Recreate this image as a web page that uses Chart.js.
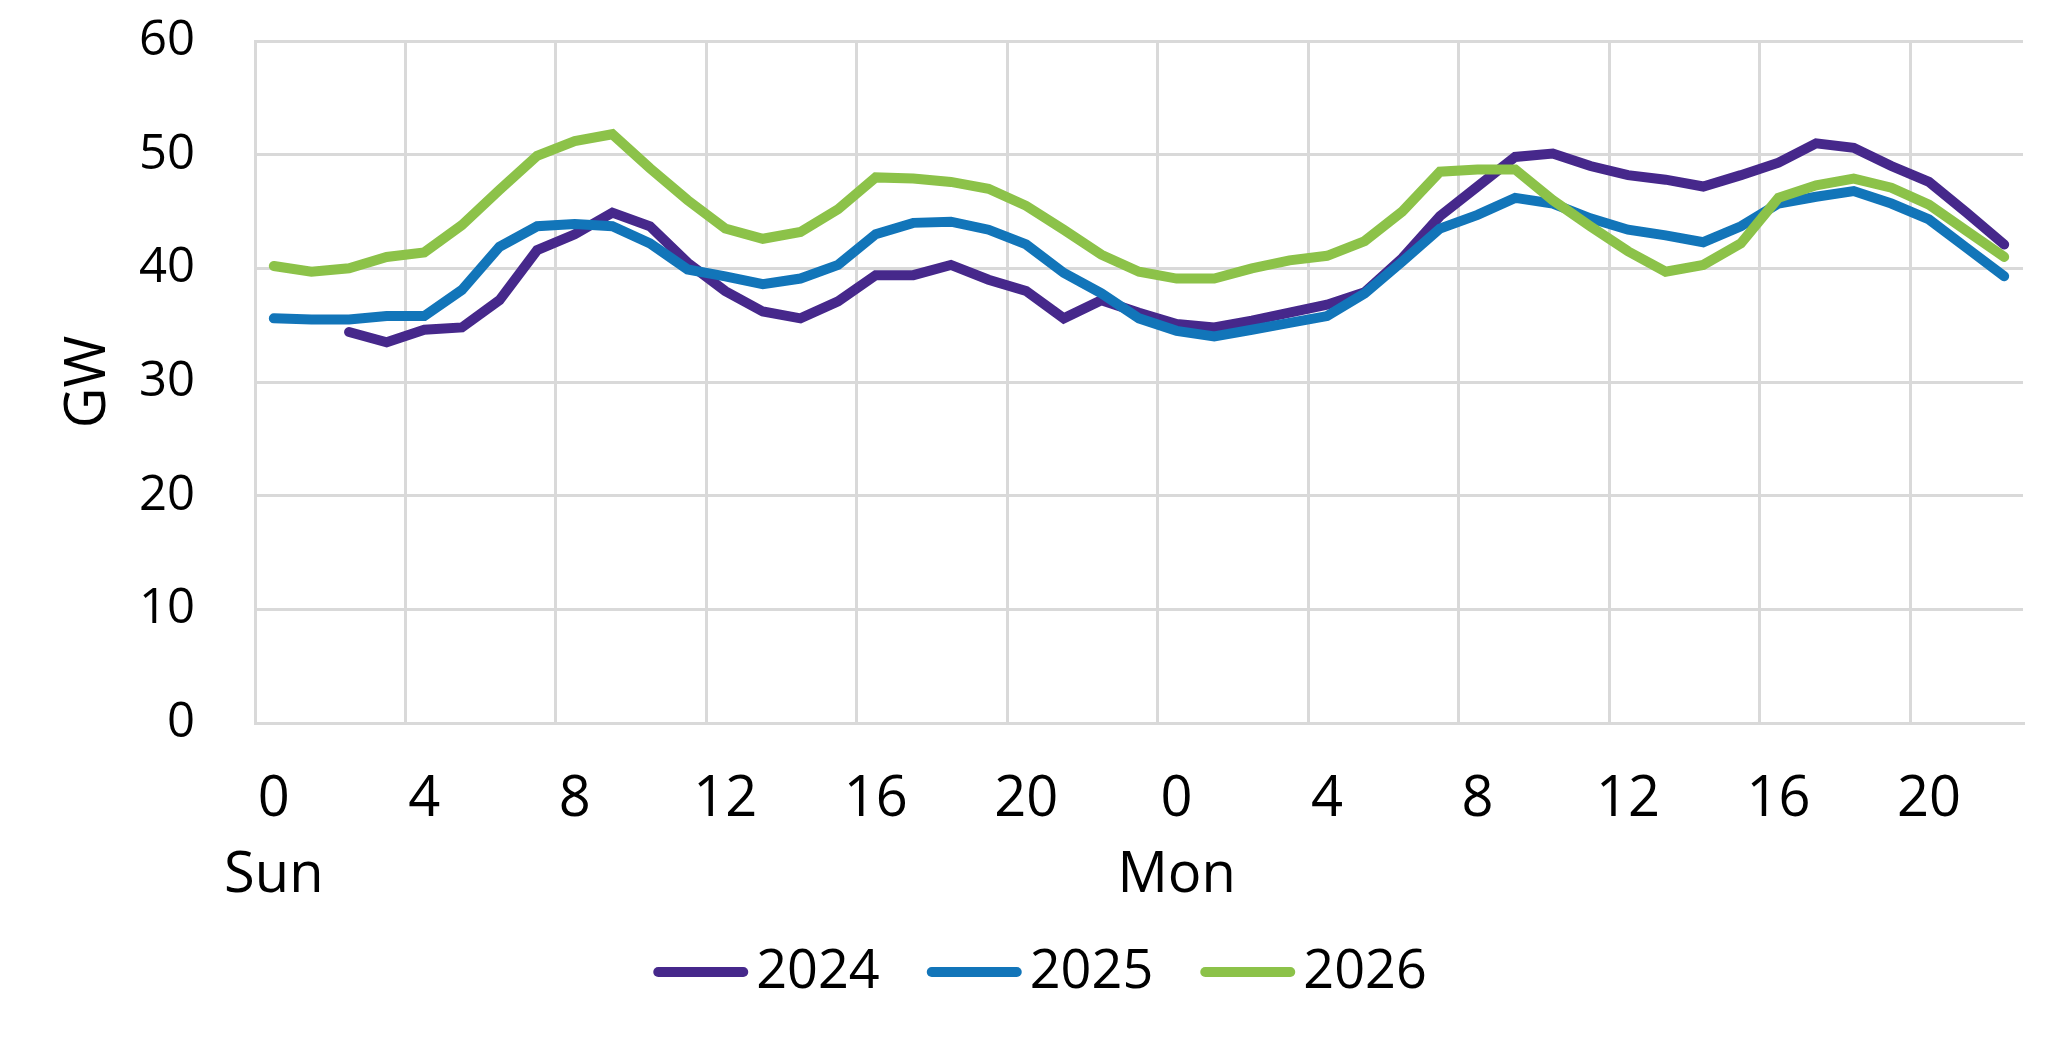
<!DOCTYPE html>
<html>
<head>
<meta charset="utf-8">
<script src="https://cdn.jsdelivr.net/npm/chart.js@4/dist/chart.umd.min.js"></script>
<style>
html,body{margin:0;padding:0;background:#ffffff;}
canvas{display:block;}
</style>
</head>
<body>
<canvas id="c" width="2068" height="1053"></canvas>
<script>
// Hour of day for each point (Sunday 0-23, Monday 0-22)
const hours = ['0','1','2','3','4','5','6','7','8','9','10','11','12','13','14','15','16','17','18','19','20','21','22','23',
               '0','1','2','3','4','5','6','7','8','9','10','11','12','13','14','15','16','17','18','19','20','21','22'];
const days = ['Sun', 'Mon'];
const seriesNames = ['2024', '2025', '2026'];

const values2024 = [null, null, 34.4, 33.5, 34.6, 34.8, 37.2, 41.6,
  43.0, 44.9, 43.7, 40.5, 38.0, 36.2, 35.6, 37.1,
  39.4, 39.4, 40.3, 39.0, 38.0, 35.6, 37.2, 36.1,
  35.1, 34.8, 35.4, 36.1, 36.8, 37.9, 40.9, 44.6,
  47.2, 49.8, 50.1, 49.0, 48.2, 47.8, 47.2, 48.2,
  49.3, 51.0, 50.6, 49.0, 47.6, 44.9, 42.1];

const values2025 = [35.6, 35.5, 35.5, 35.8, 35.8, 38.1, 41.9, 43.7,
  43.9, 43.7, 42.2, 39.9, 39.3, 38.6, 39.1, 40.3,
  43.0, 44.0, 44.1, 43.4, 42.1, 39.6, 37.8, 35.6,
  34.5, 34.0, 34.6, 35.2, 35.8, 37.8, 40.6, 43.5,
  44.7, 46.2, 45.7, 44.4, 43.4, 42.9, 42.3, 43.7,
  45.7, 46.3, 46.8, 45.7, 44.3, 41.8, 39.3];

const values2026 = [40.2, 39.7, 40.0, 41.0, 41.4, 43.8, 46.9, 49.9,
  51.2, 51.8, 48.8, 46.0, 43.5, 42.6, 43.2, 45.2,
  48.0, 47.9, 47.6, 47.0, 45.5, 43.4, 41.2, 39.7,
  39.1, 39.1, 40.0, 40.7, 41.1, 42.4, 45.0, 48.5,
  48.7, 48.7, 46.0, 43.7, 41.5, 39.7, 40.3, 42.2,
  46.2, 47.3, 47.9, 47.1, 45.6, 43.3, 41.0];

const yTitle = 'GW';
const colors = ['#46288b', '#1275b9', '#8cc249'];
const gridColor = '#d9d9d9';
const FONT = "'Open Sans', 'Noto Sans', sans-serif";

Chart.defaults.font.family = FONT;
Chart.defaults.color = '#000000';

function mkDataset(label, data, color, order) {
  return {
    label: label,
    data: data,
    borderColor: color,
    backgroundColor: color,
    borderWidth: 10,
    borderCapStyle: 'round',
    borderJoinStyle: 'miter',
    pointRadius: 0,
    pointHoverRadius: 0,
    tension: 0,
    fill: false,
    spanGaps: false,
    order: order
  };
}

const X_AXIS_H = 181;
const PLOT_BOTTOM = 723;

// Legend drawn below the axis, in dataset order, from the datasets' own labels/colours
const bottomLegend = {
  id: 'bottomLegend',
  afterDraw(chart) {
    const ctx = chart.ctx;
    const fontSize = 54;
    const lineLen = 95;     // including round caps
    const gapText = 8;
    const gapItem = 47;
    const cy = 972;
    ctx.save();
    ctx.font = fontSize + 'px ' + FONT;
    ctx.textBaseline = 'middle';
    ctx.textAlign = 'left';
    const items = chart.data.datasets.map(ds => ({
      text: ds.label, color: ds.borderColor, lw: ds.borderWidth,
      tw: ctx.measureText(ds.label).width
    }));
    let total = 0;
    items.forEach((it, i) => { total += lineLen + gapText + it.tw + (i < items.length - 1 ? gapItem : 0); });
    let x = chart.width / 2 - total / 2 + 6;
    items.forEach(it => {
      ctx.strokeStyle = it.color;
      ctx.lineWidth = it.lw;
      ctx.lineCap = 'round';
      ctx.beginPath();
      ctx.moveTo(x + it.lw / 2, cy);
      ctx.lineTo(x + lineLen - it.lw / 2, cy);
      ctx.stroke();
      x += lineLen + gapText;
      ctx.fillStyle = '#000000';
      ctx.fillText(it.text, x, cy + 1);
      x += it.tw + gapItem;
    });
    ctx.restore();
  }
};

new Chart(document.getElementById('c'), {
  type: 'line',
  data: {
    labels: hours,
    datasets: [
      mkDataset(seriesNames[0], values2024, colors[0], 3),
      mkDataset(seriesNames[1], values2025, colors[1], 2),
      mkDataset(seriesNames[2], values2026, colors[2], 1)
    ]
  },
  plugins: [bottomLegend],
  options: {
    responsive: false,
    animation: false,
    devicePixelRatio: 1,
    layout: { padding: { left: 0, right: 45, top: 41, bottom: 1053 - PLOT_BOTTOM - X_AXIS_H } },
    plugins: {
      tooltip: { enabled: false },
      legend: { display: false }
    },
    scales: {
      x: {
        type: 'category',
        offset: true,
        grid: {
          offset: true,
          drawTicks: false,
          lineWidth: 3,
          color: (ctx) => (ctx.index % 4 === 0 || ctx.index === hours.length) ? gridColor : 'rgba(0,0,0,0)'
        },
        border: { display: true, color: gridColor, width: 3 },
        ticks: {
          autoSkip: false,
          maxRotation: 0,
          minRotation: 0,
          padding: 40,
          font: { size: 56, lineHeight: 1.34 },
          color: '#000000',
          callback: function (value, index) {
            if (index % 4 !== 0) return '';
            const h = hours[index];
            if (h === '0') {
              let d = 0;
              for (let k = 1; k <= index; k++) if (hours[k] === '0') d++;
              return [h, days[d]];
            }
            return h;
          }
        },
        afterFit: function (scale) {
          scale.height = X_AXIS_H;
        }
      },
      y: {
        min: 0,
        max: 60,
        ticks: {
          stepSize: 10,
          padding: 0,
          font: { size: 49 },
          color: '#000000'
        },
        grid: {
          drawTicks: true,
          tickLength: 60,
          tickColor: 'rgba(0,0,0,0)',
          lineWidth: 3,
          color: gridColor
        },
        border: { display: true, color: gridColor, width: 3 },
        title: {
          display: true,
          text: yTitle,
          font: { size: 56 },
          color: '#000000',
          padding: { top: 55, bottom: 0 }
        },
        afterFit: function (scale) {
          scale.width = 255;
        }
      }
    }
  }
});
</script>
</body>
</html>
